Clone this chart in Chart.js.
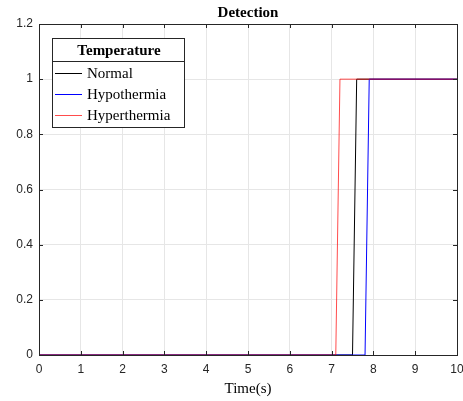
<!DOCTYPE html>
<html>
<head>
<meta charset="utf-8">
<script src="https://cdn.jsdelivr.net/npm/chart.js@4.4.0/dist/chart.umd.min.js"></script>
<style>
  html, body { margin: 0; padding: 0; background: #fff; }
</style>
</head>
<body>
<canvas id="myChart" width="463" height="401"></canvas>
<script>
// step data, sampled every 0.1 s
let timeNormal = [0, 7.5, 7.6, 10];
let detNormal = [0, 0, 1, 1];
let timeHypo = [0, 7.8, 7.9, 10];
let detHypo = [0, 0, 1, 1];
let timeHyper = [0, 7.1, 7.2, 10];
let detHyper = [0, 0, 1, 1];
let seriesNames = ["Normal", "Hypothermia", "Hyperthermia"];
let seriesColors = ["#000000", "#0000ff", "rgba(255,0,0,0.7)"];
let xTicks = [0, 1, 2, 3, 4, 5, 6, 7, 8, 9, 10];
let yTicks = [0, 0.2, 0.4, 0.6, 0.8, 1, 1.2];

function toPoints(xs, ys) {
  return xs.map((x, i) => ({ x: x, y: ys[i] }));
}

let serif = "'Liberation Serif', 'Times New Roman', serif";
let sans = "'Liberation Sans', Arial, sans-serif";

function noPad(scale) {
  scale.paddingLeft = 0;
  scale.paddingRight = 0;
  scale.paddingTop = 0;
  scale.paddingBottom = 0;
}

// box, inner ticks, titles and the legend, drawn MATLAB style
let matlabBits = {
  id: "matlabBits",
  afterDatasetsDraw(chart) {
    let ctx = chart.ctx;
    let a = chart.chartArea;
    let xs = chart.scales.x;
    let ys = chart.scales.y;
    ctx.save();
    ctx.strokeStyle = "#262626";
    ctx.lineWidth = 1;
    ctx.beginPath();
    xTicks.forEach((t) => {
      let px = Math.round(xs.getPixelForValue(t)) + 0.5;
      ctx.moveTo(px, a.bottom);
      ctx.lineTo(px, a.bottom - 4);
      ctx.moveTo(px, a.top);
      ctx.lineTo(px, a.top + 4);
    });
    yTicks.forEach((t) => {
      let py = Math.round(ys.getPixelForValue(t)) + 0.5;
      ctx.moveTo(a.left, py);
      ctx.lineTo(a.left + 4, py);
      ctx.moveTo(a.right, py);
      ctx.lineTo(a.right - 4, py);
    });
    ctx.stroke();
    ctx.strokeRect(Math.round(a.left) + 0.5, Math.round(a.top) + 0.5,
      Math.round(a.right - a.left), Math.round(a.bottom - a.top));
    ctx.restore();
  },
  afterDraw(chart) {
    let ctx = chart.ctx;
    let a = chart.chartArea;
    let cx = (a.left + a.right) / 2;
    ctx.save();
    ctx.fillStyle = "#000";
    ctx.textAlign = "center";
    ctx.textBaseline = "middle";
    ctx.font = "bold 15px " + serif;
    ctx.fillText("Detection", cx, 13);
    ctx.font = "15px " + serif;
    ctx.fillText("Time(s)", cx, 389);

    // legend
    let lx = 52, ly = 38, lw = 132, lh = 89;
    ctx.fillStyle = "#fff";
    ctx.fillRect(lx, ly, lw, lh);
    ctx.strokeStyle = "#262626";
    ctx.lineWidth = 1;
    ctx.strokeRect(lx + 0.5, ly + 0.5, lw, lh);
    ctx.beginPath();
    ctx.moveTo(lx, ly + 23.5);
    ctx.lineTo(lx + lw, ly + 23.5);
    ctx.stroke();
    ctx.fillStyle = "#000";
    ctx.font = "bold 15px " + serif;
    ctx.fillText("Temperature", lx + lw / 2 + 1, ly + 13);
    ctx.textAlign = "left";
    ctx.font = "15px " + serif;
    seriesNames.forEach((name, i) => {
      let y = ly + 35 + i * 21;
      ctx.fillStyle = seriesColors[i];
      ctx.fillRect(lx + 3, y, 27, 1);
      ctx.fillStyle = "#000";
      ctx.fillText(name, lx + 35, y + 1);
    });
    ctx.restore();
  }
};

let ctx = document.getElementById("myChart").getContext("2d");
let chart = new Chart(ctx, {
  type: "line",
  data: {
    datasets: [
      { label: seriesNames[0], data: toPoints(timeNormal, detNormal), borderColor: seriesColors[0], order: 2 },
      { label: seriesNames[1], data: toPoints(timeHypo, detHypo), borderColor: seriesColors[1], order: 1 },
      { label: seriesNames[2], data: toPoints(timeHyper, detHyper), borderColor: seriesColors[2], order: 0 }
    ]
  },
  options: {
    responsive: false,
    animation: false,
    devicePixelRatio: 1,
    layout: { padding: { top: 24, right: 6, left: 0, bottom: 0 } },
    elements: {
      line: { borderWidth: 1, tension: 0, fill: false },
      point: { radius: 0 }
    },
    datasets: { line: { clip: 3 } },
    plugins: {
      legend: { display: false },
      title: { display: false },
      tooltip: { enabled: false }
    },
    scales: {
      x: {
        type: "linear",
        min: 0,
        max: 10,
        afterBuildTicks: (scale) => { scale.ticks = xTicks.map((v) => ({ value: v })); },
        afterFit: (scale) => { scale.height = 46; noPad(scale); },
        grid: { color: "#e6e6e6", drawTicks: false },
        border: { display: false },
        ticks: { color: "#262626", padding: 7, maxRotation: 0, font: { family: sans, size: 12 } }
      },
      y: {
        type: "linear",
        min: 0,
        max: 1.2,
        afterBuildTicks: (scale) => { scale.ticks = yTicks.map((v) => ({ value: v })); },
        afterFit: (scale) => { scale.width = 39; noPad(scale); },
        grid: { color: "#e6e6e6", drawTicks: false },
        border: { display: false },
        ticks: {
          color: "#262626",
          padding: 6,
          font: { family: sans, size: 12 },
          callback: (v) => String(Math.round(v * 10) / 10)
        }
      }
    }
  },
  plugins: [matlabBits]
});
</script>
</body>
</html>
